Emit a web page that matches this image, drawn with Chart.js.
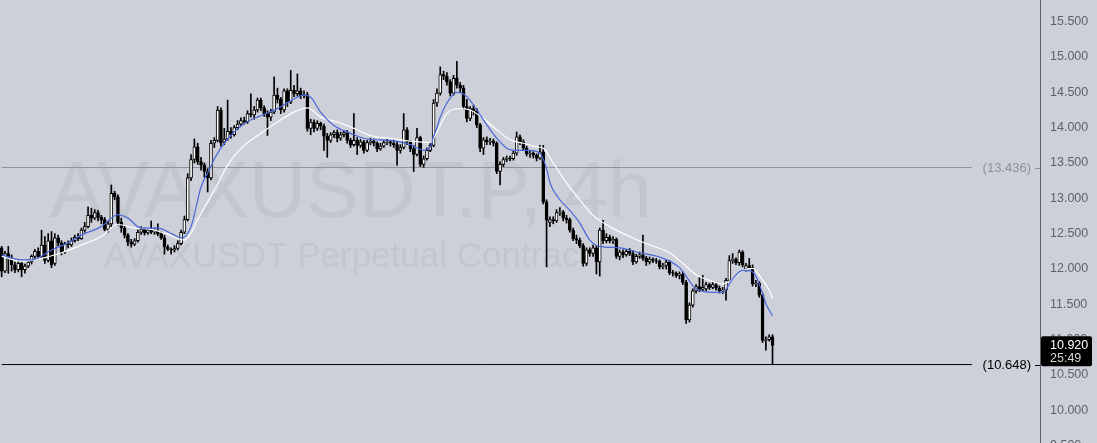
<!DOCTYPE html>
<html>
<head>
<meta charset="utf-8">
<script src="https://cdn.jsdelivr.net/npm/chart.js@4.4.1/dist/chart.umd.min.js"></script>
<style>
  html, body { margin: 0; padding: 0; background: #cdd0d8; }
  #wrap { width: 1097px; height: 443px; position: relative; }
</style>
</head>
<body>
<div id="wrap"><canvas id="chart"></canvas></div>
<script>
// AVAXUSDT.P 4h candles
const opens = [
  12.30, 11.97, 12.22, 12.14, 12.06, 11.99, 12.08, 11.99, 12.04, 12.10,
  12.18, 12.25, 12.17, 12.34, 12.12, 12.40, 12.08, 12.44, 12.37, 12.24,
  12.36, 12.34, 12.40, 12.45, 12.43, 12.55, 12.60, 12.76, 12.72, 12.80,
  12.73, 12.70, 12.56, 12.64, 13.07, 13.02, 12.66, 12.58, 12.48, 12.38,
  12.35, 12.40, 12.52, 12.56, 12.51, 12.55, 12.52, 12.54, 12.50, 12.44,
  12.31, 12.28, 12.27, 12.29, 12.36, 12.52, 12.70, 13.29, 13.55, 13.73,
  13.52, 13.47, 13.38, 13.29, 13.78, 13.82, 14.25, 13.80, 13.84, 13.95,
  13.90, 14.00, 14.05, 14.10, 14.08, 14.20, 14.18, 14.25, 14.39, 14.28,
  14.20, 14.15, 14.22, 14.46, 14.40, 14.25, 14.52, 14.36, 14.53, 14.48,
  14.52, 14.45, 14.47, 13.99, 14.08, 13.99, 14.06, 14.02, 13.88, 13.82,
  13.90, 13.93, 13.85, 13.90, 13.93, 13.82, 13.76, 13.82, 13.75, 13.80,
  13.68, 13.79, 13.81, 13.78, 13.70, 13.74, 13.79, 13.80, 13.78, 13.76,
  13.68, 13.72, 13.97, 13.80, 13.70, 13.62, 13.86, 13.48, 13.56, 13.68,
  13.75, 14.35, 14.49, 14.75, 14.73, 14.65, 14.49, 14.70, 14.60, 14.56,
  14.30, 14.13, 14.27, 14.24, 14.04, 13.71, 13.83, 13.80, 13.81, 13.78,
  13.38, 13.48, 13.55, 13.57, 13.56, 13.64, 13.87, 13.80, 13.71, 13.63,
  13.64, 13.61, 13.57, 13.66, 12.95, 12.66, 12.70, 12.68, 12.80, 12.81,
  12.72, 12.70, 12.55, 12.43, 12.41, 12.33, 12.08, 12.27, 12.22, 12.30,
  12.10, 12.55, 12.40, 12.45, 12.40, 12.42, 12.18, 12.24, 12.20, 12.25,
  12.22, 12.10, 12.18, 12.20, 12.15, 12.10, 12.14, 12.12, 12.11, 12.03,
  12.05, 12.10, 11.95, 11.94, 11.91, 11.93, 11.81, 11.28, 11.49, 11.69,
  11.75, 11.71, 11.72, 11.78, 11.74, 11.78, 11.73, 11.69, 11.70, 11.84,
  12.12, 12.14, 12.09, 12.24, 12.00, 12.05, 12.02, 11.79, 11.80, 11.63,
  10.99, 11.00, 11.04
];
const highs = [
  12.32, 12.25, 12.32, 12.20, 12.10, 12.12, 12.10, 12.07, 12.13, 12.20,
  12.28, 12.30, 12.55, 12.46, 12.50, 12.53, 12.50, 12.48, 12.40, 12.38,
  12.40, 12.44, 12.48, 12.50, 12.58, 12.66, 12.88, 12.86, 12.84, 12.83,
  12.76, 12.73, 12.68, 13.19, 13.10, 13.05, 12.72, 12.62, 12.50, 12.42,
  12.43, 12.55, 12.60, 12.58, 12.57, 12.68, 12.58, 12.64, 12.53, 12.48,
  12.34, 12.30, 12.33, 12.40, 12.55, 12.75, 13.35, 13.62, 13.84, 13.78,
  13.58, 13.50, 13.42, 13.82, 13.86, 14.30, 14.28, 13.99, 14.39, 14.00,
  14.03, 14.10, 14.14, 14.15, 14.24, 14.48, 14.30, 14.42, 14.42, 14.31,
  14.24, 14.26, 14.72, 14.56, 14.43, 14.55, 14.55, 14.81, 14.60, 14.76,
  14.56, 14.52, 14.50, 14.12, 14.11, 14.10, 14.08, 14.05, 13.92, 13.93,
  13.96, 13.97, 13.94, 13.96, 13.96, 13.85, 14.20, 13.86, 13.84, 13.82,
  13.82, 13.85, 13.84, 13.80, 13.78, 13.82, 13.84, 13.82, 13.83, 13.80,
  13.76, 14.20, 14.00, 13.82, 13.75, 13.99, 13.88, 13.60, 13.71, 13.78,
  14.40, 14.55, 14.86, 14.80, 14.78, 14.68, 14.74, 14.94, 14.64, 14.60,
  14.40, 14.30, 14.32, 14.27, 14.06, 13.86, 13.87, 13.85, 13.84, 13.80,
  13.52, 13.58, 13.60, 13.60, 13.67, 13.94, 13.90, 13.83, 13.74, 13.68,
  13.66, 13.63, 13.75, 13.75, 12.98, 12.74, 12.74, 12.84, 12.87, 12.83,
  12.76, 12.72, 12.58, 12.48, 12.44, 12.36, 12.30, 12.30, 12.34, 12.33,
  12.58, 12.69, 12.50, 12.48, 12.46, 12.44, 12.27, 12.27, 12.28, 12.29,
  12.26, 12.21, 12.24, 12.48, 12.18, 12.17, 12.16, 12.15, 12.13, 12.08,
  12.13, 12.12, 11.98, 11.96, 11.96, 11.96, 11.84, 11.52, 11.72, 11.78,
  11.88, 11.91, 11.81, 11.80, 11.82, 11.81, 11.76, 11.74, 11.87, 12.19,
  12.22, 12.16, 12.27, 12.26, 12.08, 12.15, 12.06, 11.84, 11.82, 11.66,
  11.04, 11.07, 11.07
];
const lows = [
  11.89, 11.95, 11.94, 11.97, 11.95, 11.96, 11.89, 11.94, 12.02, 12.07,
  12.15, 12.14, 12.15, 12.08, 12.10, 12.02, 12.05, 12.33, 12.20, 12.22,
  12.30, 12.32, 12.38, 12.40, 12.42, 12.52, 12.58, 12.66, 12.70, 12.68,
  12.64, 12.54, 12.52, 12.60, 12.98, 12.62, 12.52, 12.44, 12.33, 12.31,
  12.33, 12.38, 12.49, 12.48, 12.49, 12.50, 12.49, 12.47, 12.42, 12.21,
  12.26, 12.21, 12.24, 12.27, 12.34, 12.50, 12.68, 13.25, 13.50, 13.48,
  13.40, 13.30, 13.09, 13.26, 13.72, 13.80, 13.74, 13.76, 13.82, 13.85,
  13.88, 13.97, 14.03, 14.05, 14.06, 14.15, 14.12, 14.22, 14.24, 14.16,
  13.89, 14.10, 14.20, 14.35, 14.20, 14.22, 14.30, 14.34, 14.44, 14.45,
  14.41, 14.42, 13.95, 13.90, 13.94, 13.96, 13.97, 13.68, 13.58, 13.79,
  13.86, 13.80, 13.82, 13.87, 13.78, 13.72, 13.74, 13.62, 13.72, 13.64,
  13.66, 13.76, 13.74, 13.66, 13.68, 13.72, 13.76, 13.74, 13.72, 13.47,
  13.64, 13.70, 13.76, 13.66, 13.38, 13.60, 13.45, 13.44, 13.54, 13.66,
  13.73, 14.30, 14.46, 14.68, 14.60, 14.45, 14.46, 14.56, 14.50, 14.26,
  14.08, 14.10, 14.18, 14.00, 13.66, 13.62, 13.76, 13.76, 13.74, 13.35,
  13.19, 13.45, 13.52, 13.53, 13.54, 13.61, 13.76, 13.68, 13.60, 13.58,
  13.57, 13.53, 13.55, 12.92, 12.03, 12.60, 12.64, 12.66, 12.76, 12.68,
  12.65, 12.52, 12.40, 12.36, 12.30, 12.04, 12.05, 12.18, 12.18, 11.93,
  11.90, 12.36, 12.37, 12.37, 12.36, 12.15, 12.13, 12.16, 12.18, 12.19,
  12.06, 12.08, 12.15, 12.12, 12.05, 12.07, 12.09, 12.08, 12.00, 12.00,
  12.00, 11.92, 11.90, 11.88, 11.86, 11.78, 11.23, 11.25, 11.46, 11.66,
  11.68, 11.69, 11.69, 11.71, 11.72, 11.70, 11.66, 11.65, 11.56, 11.82,
  12.08, 12.06, 12.05, 12.03, 11.97, 12.00, 11.76, 11.75, 11.60, 10.96,
  10.85, 10.98, 10.648
];
const closes = [
  11.97, 12.22, 12.14, 12.06, 11.99, 12.08, 11.99, 12.04, 12.10, 12.18,
  12.25, 12.17, 12.34, 12.12, 12.40, 12.06, 12.44, 12.37, 12.24, 12.36,
  12.34, 12.40, 12.45, 12.43, 12.55, 12.60, 12.76, 12.72, 12.80, 12.73,
  12.70, 12.56, 12.64, 13.07, 13.02, 12.66, 12.58, 12.48, 12.38, 12.35,
  12.40, 12.52, 12.56, 12.51, 12.55, 12.52, 12.54, 12.50, 12.44, 12.31,
  12.28, 12.27, 12.29, 12.36, 12.52, 12.70, 13.29, 13.55, 13.73, 13.52,
  13.47, 13.38, 13.29, 13.78, 13.82, 14.25, 13.78, 13.84, 13.95, 13.90,
  14.00, 14.05, 14.10, 14.08, 14.20, 14.18, 14.25, 14.39, 14.28, 14.20,
  14.15, 14.22, 14.46, 14.40, 14.25, 14.52, 14.36, 14.53, 14.48, 14.52,
  14.45, 14.47, 13.99, 14.08, 13.99, 14.06, 14.02, 13.88, 13.82, 13.90,
  13.93, 13.85, 13.90, 13.93, 13.82, 13.76, 13.82, 13.75, 13.80, 13.68,
  13.79, 13.81, 13.78, 13.70, 13.74, 13.79, 13.80, 13.78, 13.76, 13.68,
  13.72, 13.97, 13.80, 13.70, 13.62, 13.86, 13.48, 13.56, 13.68, 13.75,
  14.35, 14.49, 14.75, 14.73, 14.65, 14.49, 14.70, 14.60, 14.56, 14.30,
  14.13, 14.27, 14.24, 14.04, 13.71, 13.83, 13.80, 13.81, 13.78, 13.38,
  13.48, 13.55, 13.57, 13.56, 13.64, 13.87, 13.80, 13.71, 13.63, 13.64,
  13.61, 13.57, 13.66, 12.95, 12.69, 12.70, 12.68, 12.80, 12.81, 12.72,
  12.70, 12.55, 12.43, 12.41, 12.33, 12.08, 12.27, 12.22, 12.30, 12.10,
  12.55, 12.40, 12.45, 12.40, 12.42, 12.18, 12.24, 12.20, 12.25, 12.22,
  12.10, 12.18, 12.20, 12.15, 12.10, 12.14, 12.12, 12.11, 12.03, 12.05,
  12.10, 11.95, 11.94, 11.91, 11.93, 11.81, 11.28, 11.49, 11.69, 11.75,
  11.71, 11.74, 11.78, 11.74, 11.78, 11.73, 11.69, 11.70, 11.84, 12.12,
  12.14, 12.09, 12.24, 12.06, 12.05, 12.02, 11.79, 11.80, 11.63, 10.99,
  11.00, 11.04, 10.92
];

// moving averages, read at a few candles only
const fastIdx = [0, 6, 9, 15, 20, 24, 30, 35, 38, 42, 47, 52, 54, 57, 60, 63, 64, 68, 73, 78,
  83, 88, 91, 93, 96, 100, 105, 110, 117, 123, 127, 129, 130, 131, 132, 134, 137, 140, 143, 146,
  149, 152, 155, 159, 162, 164, 165, 168, 171, 174, 177, 180, 186, 192, 198, 204, 209, 214, 217, 220,
  223, 226, 228, 230, 232];
const fastVal = [12.20, 12.13, 12.13, 12.27, 12.37, 12.48, 12.60, 12.77, 12.72, 12.58, 12.58, 12.48, 12.44, 12.60, 13.16, 13.45, 13.56, 13.84, 14.06, 14.17,
  14.27, 14.41, 14.46, 14.43, 14.22, 14.03, 13.92, 13.84, 13.82, 13.76, 13.68, 13.72, 13.88, 14.00, 14.15, 14.35, 14.50, 14.44, 14.25, 14.04,
  13.85, 13.71, 13.68, 13.68, 13.64, 13.42, 13.22, 12.98, 12.83, 12.65, 12.41, 12.32, 12.30, 12.23, 12.17, 12.02, 11.72, 11.67, 11.67, 11.86,
  11.98, 11.96, 11.79, 11.51, 11.34];
const slowIdx = [0, 6, 12, 18, 24, 30, 35, 40, 45, 50, 55, 57, 59, 62, 65, 68, 73, 78, 83, 88,
  92, 96, 101, 106, 111, 117, 123, 129, 131, 134, 138, 141, 145, 149, 153, 157, 161, 163, 166, 170,
  174, 178, 183, 189, 195, 201, 205, 209, 213, 217, 220, 223, 226, 228, 231, 232];
const slowVal = [12.18, 12.11, 12.15, 12.23, 12.34, 12.46, 12.63, 12.58, 12.56, 12.49, 12.41, 12.51, 12.70, 12.95, 13.20, 13.47, 13.75, 13.92, 14.08, 14.22,
  14.28, 14.15, 14.08, 13.99, 13.89, 13.85, 13.81, 13.79, 13.94, 14.20, 14.27, 14.25, 14.13, 13.97, 13.83, 13.78, 13.73, 13.71, 13.50, 13.22,
  12.98, 12.76, 12.60, 12.46, 12.34, 12.23, 12.08, 11.92, 11.84, 11.79, 11.86, 11.98, 12.01, 11.91, 11.70, 11.58];

const slotCount = 313;            // candles + empty space on the right
const labels = Array.from({ length: slotCount }, (_, i) => String(i));
const yTicks = [9.5, 10, 10.5, 11, 11.5, 12, 12.5, 13, 13.5, 14, 14.5, 15, 15.5];
const levelGray = 13.436;
const levelBlack = 10.648;
const levelEndIdx = 292;
const lastPrice = '10.920';
const countdown = '25:49';

const FONT = "'Liberation Sans', Arial, sans-serif";

const levelLine = (v) => [{ x: '0', y: v }, { x: String(levelEndIdx), y: v }];
const emaPoints = (idx, vals) => idx.map((k, i) => ({ x: String(k), y: vals[i] }));

const watermark = {
  id: 'watermark',
  beforeDatasetsDraw(chart) {
    const { ctx, chartArea } = chart;
    ctx.save();
    ctx.fillStyle = 'rgba(80, 86, 102, 0.08)';
    ctx.textAlign = 'left';
    ctx.textBaseline = 'alphabetic';
    ctx.font = '79px ' + FONT;
    ctx.fillText('AVAXUSDT.P, 4h', chartArea.left + 50, 217);
    ctx.font = '35px ' + FONT;
    ctx.fillText('AVAXUSDT Perpetual Contract', chartArea.left + 104, 267);
    ctx.restore();
  }
};

const overlay = {
  id: 'overlay',
  afterDraw(chart) {
    const { ctx, chartArea } = chart;
    const y = chart.scales.y;
    ctx.save();
    ctx.font = '13px ' + FONT;
    ctx.textAlign = 'right';
    ctx.textBaseline = 'middle';
    [[levelGray, '#8e9199'], [levelBlack, '#000000']].forEach(([v, col]) => {
      const py = Math.round(y.getPixelForValue(v)) + 0.5;
      ctx.fillStyle = col;
      ctx.fillText('(' + v.toFixed(3) + ')', chartArea.right - 9, py);
      ctx.strokeStyle = col;
      ctx.lineWidth = 1;
      ctx.beginPath();
      ctx.moveTo(chartArea.right - 5, py);
      ctx.lineTo(chartArea.right, py);
      ctx.stroke();
    });
    // last price tag
    const py = y.getPixelForValue(closes[closes.length - 1]);
    const bx = chartArea.right + 1, bw = 51, by = py - 9, bh = 30;
    ctx.fillStyle = '#000';
    ctx.beginPath();
    ctx.roundRect(bx, by, bw, bh, 2);
    ctx.fill();
    ctx.textAlign = 'left';
    ctx.font = '12.5px ' + FONT;
    ctx.fillStyle = '#ffffff';
    ctx.fillText(lastPrice, bx + 9, py + 0.5);
    ctx.fillStyle = '#d8d8d8';
    ctx.fillText(countdown, bx + 9, py + 13.5);
    ctx.restore();
  }
};

new Chart(document.getElementById('chart'), {
  data: {
    labels: labels,
    datasets: [
      {
        type: 'line', label: 'EMA fast', data: emaPoints(fastIdx, fastVal),
        borderColor: '#4a66d8', borderWidth: 1.2, pointRadius: 0,
        cubicInterpolationMode: 'monotone', order: 0
      },
      {
        type: 'line', label: 'EMA slow', data: emaPoints(slowIdx, slowVal),
        borderColor: '#ffffff', borderWidth: 1.2, pointRadius: 0,
        cubicInterpolationMode: 'monotone', order: 0
      },
      {
        type: 'bar', label: 'body', data: opens.map((o, i) => [o, closes[i]]),
        backgroundColor: closes.map((c, i) => c >= opens[i] ? '#ffffff' : '#000000'),
        borderColor: '#000000', borderWidth: 1, borderSkipped: false,
        barThickness: 3, grouped: false, order: 1
      },
      {
        type: 'bar', label: 'wick', data: lows.map((l, i) => [l, highs[i]]),
        backgroundColor: '#000000', barThickness: 1, grouped: false, order: 2
      },
      {
        type: 'line', label: 'level', data: levelLine(levelGray),
        borderColor: '#8e9199', borderWidth: 1, pointRadius: 0, order: 3
      },
      {
        type: 'line', label: 'low', data: levelLine(levelBlack),
        borderColor: '#000000', borderWidth: 1, pointRadius: 0, order: 3
      }
    ]
  },
  options: {
    responsive: true,
    maintainAspectRatio: false,
    animation: false,
    events: [],
    layout: { padding: 0 },
    plugins: { legend: { display: false }, tooltip: { enabled: false } },
    scales: {
      x: { type: 'category', display: false, offset: true },
      y: {
        position: 'right',
        min: 9.538,
        max: 15.807,
        afterBuildTicks: (s) => { s.ticks = yTicks.map(v => ({ value: v })); },
        afterFit: (s) => { s.width = 57; s.paddingTop = 0; s.paddingBottom = 0; },
        grid: { display: false, drawTicks: false },
        border: { display: true, color: '#5b5e66', width: 1 },
        ticks: {
          padding: 10,
          color: '#5f6269',
          font: { size: 12.5, family: FONT },
          callback: (v) => Number(v).toFixed(3)
        }
      }
    }
  },
  plugins: [watermark, overlay]
});
</script>
</body>
</html>
